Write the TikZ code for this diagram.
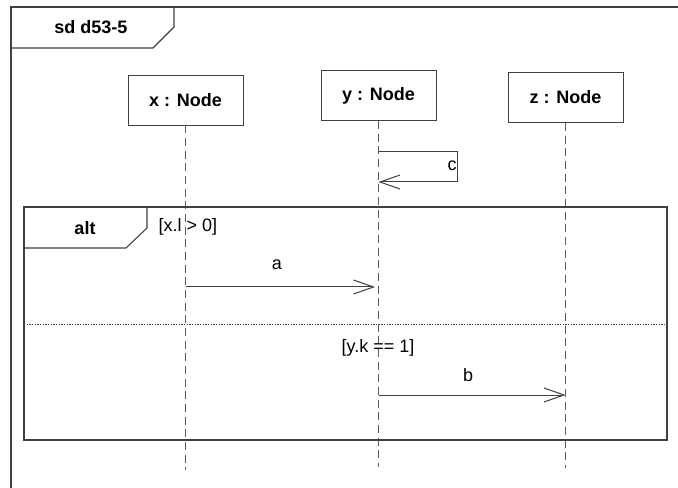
\documentclass[tikz,border=0pt]{standalone}
\usepackage{fontspec}
\setmainfont{Liberation Sans}
\usetikzlibrary{arrows.meta}
\definecolor{ln}{RGB}{64,64,64}
\definecolor{lg}{RGB}{90,90,90}
\begin{document}
\begin{tikzpicture}[x=0.75pt,y=-0.75pt,
  head/.style={draw=ln, line width=0.7pt, minimum width=86.25pt, minimum height=37.5pt, font=\fontsize{13.5}{15}\selectfont\bfseries, inner sep=0pt},
  life/.style={draw=lg, line width=0.75pt, dash pattern=on 6pt off 3.5pt},
  msg/.style={draw=ln, line width=0.75pt, -{Straight Barb[length=15pt,width=10.5pt,line width=0.75pt]}},
  frame/.style={draw=ln, line width=0.8pt},
  tabtext/.style={font=\fontsize{13.5}{15}\selectfont\bfseries, inner sep=0pt},
  lbl/.style={font=\fontsize{13.5}{15}\selectfont, inner sep=1pt},
  ]
\useasboundingbox (0,0) rectangle (678,488);
\fill[white] (0,0) rectangle (678,488);
\begin{scope}
  \clip (0,0) rectangle (678,488);
  \draw[frame] (11,7) rectangle (700,510);
\end{scope}
% sd tab
\draw[frame] (11,48) -- (153,48) -- (174,27) -- (174,7);
\node[tabtext] (sdlabel) at (91,27) {sd d53-5};

% lifeline heads
\node[head] (hx) at (185.5,100) {x : Node};
\node[head] (hy) at (378.5,95.5) {y : Node};
\node[head] (hz) at (565.5,97.5) {z : Node};

% lifeline ends
\coordinate (ex) at (186,470);
\coordinate (ey) at (378,467);
\coordinate (ez) at (566,468);
\draw[life] (hx.south) -- (hx.south |- ex);
\draw[life] (hy.south) -- (hy.south |- ey);
\draw[life] (hz.south) -- (hz.south |- ez);

% self message c
\coordinate (c1) at (hy.south |- 0,152);
\coordinate (c2) at (457,152);
\coordinate (c3) at (457,182);
\coordinate (c4) at (hy.south |- 0,182);
\draw[msg] (c1) -- (c2) -- (c3) -- (c4);
\node[lbl, fill=white, inner sep=0.5pt] (lc) at (452,166) {c};

% alt frame
\draw[frame] (24,207) rectangle (667,440);
\draw[frame] (24,248) -- (126,248) -- (147,228) -- (147,207);
\node[tabtext] (altlabel) at (85,228) {alt};
\node[lbl, anchor=west] (g1) at (157,227) {[x.l > 0]};
\draw[draw=ln, line width=0.75pt, dash pattern=on 1pt off 1pt] (24,324) -- (667,324);
\node[lbl] (g2) at (378,348) {[y.k == 1]};

% message a
\coordinate (a1) at (hx.south |- 0,287);
\coordinate (a2) at (375,287);
\draw[msg] (a1) -- (a2);
\node[lbl] (la) at (277,265) {a};

% message b
\coordinate (b1) at (hy.south |- 0,395);
\coordinate (b2) at (hz.south |- 0,395);
\draw[msg] (b1) -- (b2);
\node[lbl] (lb) at (468,375) {b};
\end{tikzpicture}
\end{document}
